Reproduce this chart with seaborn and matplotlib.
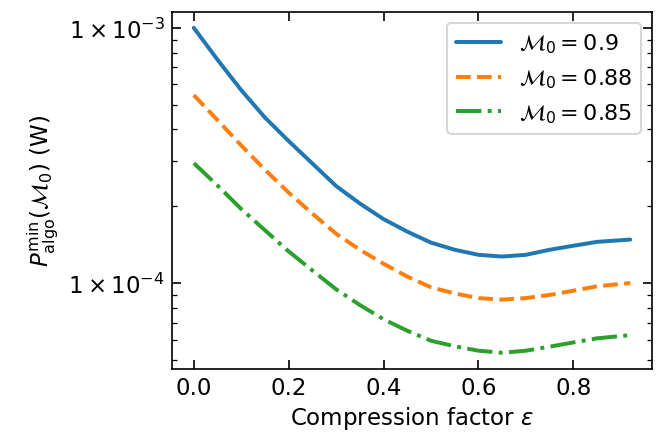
import numpy as np
import pandas as pd
import matplotlib
matplotlib.use("Agg")
import matplotlib.pyplot as plt
import matplotlib.ticker as mticker
import seaborn as sns

# Compression factor values and minimum algorithm power (W) for each M0
eps = [0.0, 0.05, 0.1, 0.15, 0.2, 0.25, 0.3, 0.35, 0.4, 0.45, 0.5, 0.55,
       0.6, 0.65, 0.7, 0.75, 0.8, 0.85, 0.92]
p_090 = [1.0e-3, 7.5e-4, 5.7e-4, 4.45e-4, 3.6e-4, 2.94e-4, 2.4e-4, 2.05e-4,
         1.78e-4, 1.59e-4, 1.44e-4, 1.35e-4, 1.29e-4, 1.27e-4,
         1.29e-4, 1.35e-4, 1.40e-4, 1.45e-4, 1.48e-4]
p_088 = [5.45e-4, 4.35e-4, 3.46e-4, 2.78e-4, 2.26e-4, 1.87e-4, 1.56e-4, 1.35e-4,
         1.19e-4, 1.06e-4, 9.62e-5, 9.1e-5, 8.73e-5, 8.61e-5,
         8.73e-5, 8.98e-5, 9.33e-5, 9.71e-5, 1.0e-4]
p_085 = [2.95e-4, 2.41e-4, 1.95e-4, 1.61e-4, 1.33e-4, 1.12e-4, 9.45e-5, 8.2e-5,
         7.21e-5, 6.5e-5, 5.94e-5, 5.65e-5, 5.43e-5, 5.33e-5,
         5.43e-5, 5.63e-5, 5.85e-5, 6.07e-5, 6.25e-5]
labels = [r"$\mathcal{M}_0 = 0.9$", r"$\mathcal{M}_0 = 0.88$", r"$\mathcal{M}_0 = 0.85$"]

df = pd.DataFrame({"eps": eps, "0.9": p_090, "0.88": p_088, "0.85": p_085})

sns.set_style("ticks", {"axes.edgecolor": "black", "xtick.color": "black",
                        "ytick.color": "black", "text.color": "black",
                        "axes.labelcolor": "black"})
plt.rcParams.update({
    "font.family": ["DejaVu Sans"],
    "font.size": 11,
    "xtick.direction": "in",
    "ytick.direction": "in",
    "xtick.top": True,
    "ytick.right": True,
    "xtick.major.size": 4.5,
    "ytick.major.size": 4.5,
    "xtick.minor.size": 2.2,
    "ytick.minor.size": 2.2,
})

fig, ax = plt.subplots(figsize=(4.4, 2.893), dpi=150)
fig.subplots_adjust(left=0.2606, right=0.988, top=0.971, bottom=0.1475)

palette = sns.color_palette("tab10")
styles = ["-", "--", "-."]
for col, lab, c, ls in zip(["0.9", "0.88", "0.85"], labels, palette[:3], styles):
    sns.lineplot(data=df, x="eps", y=col, ax=ax, color=c, linestyle=ls,
                 linewidth=1.9, label=lab)

ax.set_yscale("log")
ax.yaxis.set_major_locator(mticker.LogLocator(base=10))
ax.yaxis.set_major_formatter(mticker.FuncFormatter(
    lambda v, p: r"$1\times10^{%d}$" % round(np.log10(v))))
ax.yaxis.set_minor_formatter(mticker.NullFormatter())
ax.set_xticks([0.0, 0.2, 0.4, 0.6, 0.8])
ax.tick_params(labelsize=11)

ax.set_xlabel(r"Compression factor $\varepsilon$", fontsize=11, labelpad=2.5)
ax.set_ylabel(r"$P^{\rm min}_{\rm algo}(\mathcal{M}_0)$ (W)", fontsize=11)
ax.legend(loc="upper right", fontsize=10.7)

fig.savefig("out.png", dpi=150)
